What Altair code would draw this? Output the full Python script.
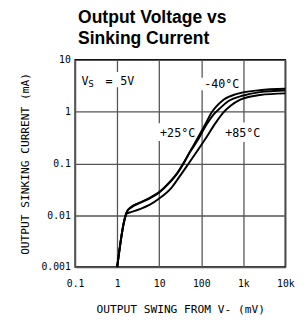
import altair as alt
import pandas as pd

# ---- data ----
x_m40 = [1, 1.45, 1.7, 2.11, 3.59, 6.12, 10, 17.8, 27, 36.7, 55, 75, 125, 178, 221, 339, 678, 2437, 10000]
y_m40 = [0.001, 0.0075, 0.0118, 0.0143, 0.0178, 0.022, 0.028, 0.044, 0.066, 0.098, 0.175, 0.27, 0.57, 0.97, 1.22, 1.7, 2.18, 2.59, 2.76]

x_p25 = [1, 1.45, 1.7, 2.11, 3.59, 6.12, 10, 17.8, 27, 36.7, 55, 80, 135, 200, 275, 420, 1000, 2500, 10000]
y_p25 = [0.001, 0.0075, 0.0116, 0.014, 0.0175, 0.0215, 0.0275, 0.043, 0.064, 0.095, 0.17, 0.27, 0.57, 0.9, 1.15, 1.55, 2.05, 2.38, 2.55]

x_p85 = [1, 1.45, 1.7, 2.11, 3.59, 6, 10, 19, 30, 48, 117, 218, 330, 500, 850, 2500, 10000]
y_p85 = [0.001, 0.0072, 0.0108, 0.0115, 0.0133, 0.016, 0.021, 0.033, 0.055, 0.095, 0.274, 0.6, 0.95, 1.3, 1.7, 2.1, 2.25]

x_ticks = [0.1, 1, 10, 100, 1000, 10000]
x_tick_labels = ["0.1", "1", "10", "100", "1k", "10k"]
y_ticks = [0.001, 0.01, 0.1, 1, 10]
y_tick_labels = ["0.001", "0.01", "0.1", "1", "10"]

# annotation text (left edge x, middle y, in data units)
label_text = ["V", "=", "5V", "-40°C", "+25°C", "+85°C"]
label_x = [0.142, 0.53, 1.18, 118, 10.5, 370]
label_y = [3.9, 3.9, 3.9, 3.35, 0.378, 0.39]
sub_text = ["S"]
sub_x = [0.205]
sub_y = [3.35]

# white boxes behind labels
box_x = [0.14, 85, 8.5, 330]
box_x2 = [1.7, 950, 75, 2600]
box_y = [2.95, 2.6, 0.27, 0.26]
box_y2 = [5.8, 4.5, 0.6, 0.62]

rows = []
for name, xs, ys in [("-40°C", x_m40, y_m40), ("+25°C", x_p25, y_p25), ("+85°C", x_p85, y_p85)]:
    rows += [{"series": name, "x": a, "y": b} for a, b in zip(xs, ys)]
df = pd.DataFrame(rows)
df_lab = pd.DataFrame({"x": label_x, "y": label_y, "t": label_text})
df_sub = pd.DataFrame({"x": sub_x, "y": sub_y, "t": sub_text})
df_box = pd.DataFrame({"x": box_x, "x2": box_x2, "y": box_y, "y2": box_y2})

xscale = alt.Scale(type="log", domain=[x_ticks[0], x_ticks[-1]], nice=False)
yscale = alt.Scale(type="log", domain=[y_ticks[0], y_ticks[-1]], nice=False)


def label_expr(vals, labs):
    expr = "''"
    for v, l in reversed(list(zip(vals, labs))):
        expr = f"(abs(log(datum.value) - log({v})) < 0.01 ? '{l}' : {expr})"
    return expr


x_axis = alt.Axis(values=x_ticks, labelExpr=label_expr(x_ticks, x_tick_labels),
                  title="OUTPUT SWING FROM V- (mV)", grid=True, ticks=False, domain=False,
                  labelPadding=12, titlePadding=16, labelFlush=False)
y_axis = alt.Axis(values=y_ticks, labelExpr=label_expr(y_ticks, y_tick_labels),
                  title="OUTPUT SINKING CURRENT (mA)", grid=True, ticks=False, domain=False,
                  labelPadding=5, titlePadding=11, labelFlush=False)

lines = alt.Chart(df).mark_line(color="black", strokeWidth=2, interpolate="monotone").encode(
    x=alt.X("x:Q", scale=xscale, axis=x_axis),
    y=alt.Y("y:Q", scale=yscale, axis=y_axis),
    detail="series:N",
)

boxes = alt.Chart(df_box).mark_rect(fill="white").encode(
    x=alt.X("x:Q", scale=xscale), x2="x2:Q",
    y=alt.Y("y:Q", scale=yscale), y2="y2:Q",
)

labels = alt.Chart(df_lab).mark_text(align="left", baseline="middle", font="DejaVu Sans Mono",
                                     fontSize=12, color="black").encode(
    x=alt.X("x:Q", scale=xscale), y=alt.Y("y:Q", scale=yscale), text="t:N")

subs = alt.Chart(df_sub).mark_text(align="left", baseline="middle", font="DejaVu Sans Mono",
                                   fontSize=9.5, color="black").encode(
    x=alt.X("x:Q", scale=xscale), y=alt.Y("y:Q", scale=yscale), text="t:N")

chart = alt.layer(boxes, lines, labels, subs).properties(
    width=216, height=213,
    background="white",
    autosize=alt.AutoSizeParams(type="none"),
    padding={"left": 69, "top": 49, "right": 12, "bottom": 46},
    title=alt.TitleParams(["Output Voltage vs", "Sinking Current"], anchor="start", frame="group",
                          font="Liberation Sans", fontSize=18, fontWeight="bold", lineHeight=21.5,
                          color="black", offset=7, dx=3),
).configure_view(stroke="black", strokeWidth=1.5).configure_axis(
    gridColor="#555555", gridWidth=1.3, gridOpacity=1,
    labelFont="DejaVu Sans Mono", labelFontSize=10, labelColor="black",
    titleFont="DejaVu Sans Mono", titleFontSize=11.5, titleFontWeight="normal", titleColor="black",
)

chart.save("out.html", embed_options={"renderer": "svg", "actions": False})
